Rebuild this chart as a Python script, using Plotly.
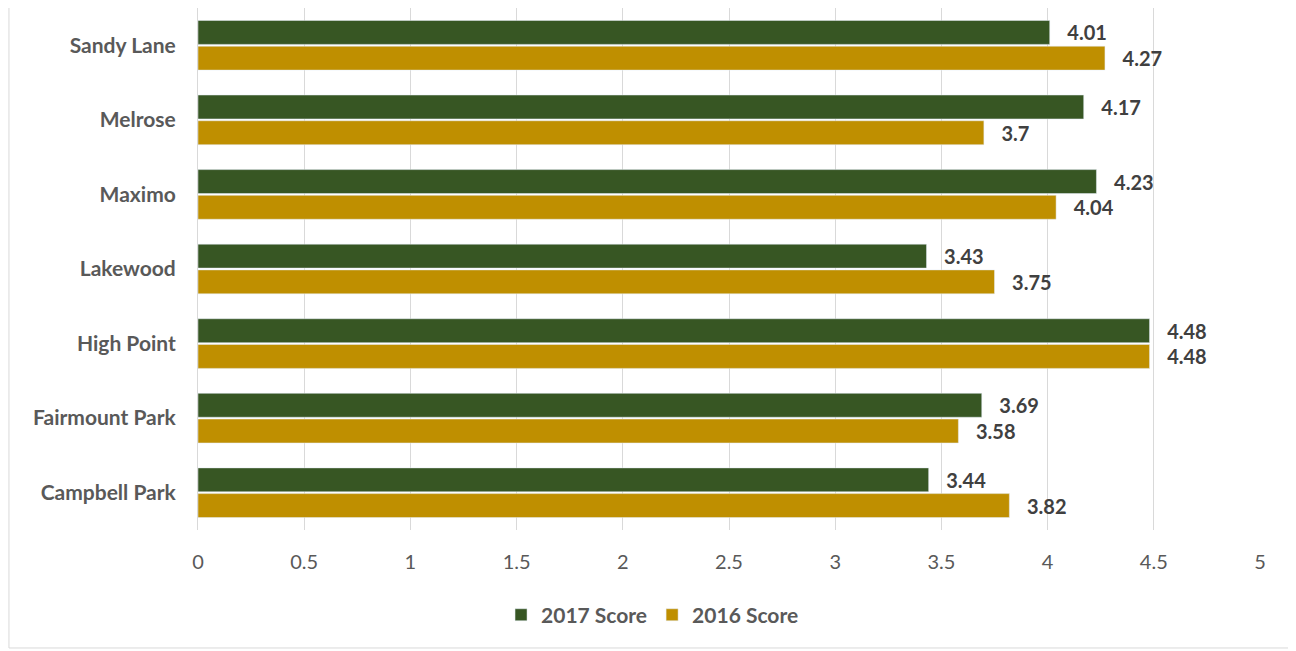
import plotly.graph_objects as go

categories = ["Campbell Park", "Fairmount Park", "High Point", "Lakewood", "Maximo", "Melrose", "Sandy Lane"]
score_2017 = [3.44, 3.69, 4.48, 3.43, 4.23, 4.17, 4.01]
score_2016 = [3.82, 3.58, 4.48, 3.75, 4.04, 3.70, 4.27]
x_ticks = [0, 0.5, 1, 1.5, 2, 2.5, 3, 3.5, 4, 4.5, 5]

FONT = "Lato, 'Open Sans', sans-serif"
label_font = dict(family=FONT, size=20, color="#404040", weight="bold")

fig = go.Figure()
fig.add_trace(go.Bar(
    y=categories, x=score_2016, orientation="h", name="2016 Score",
    marker=dict(color="#BF8F00"),
    text=[f"   {v:g}" for v in score_2016], textposition="outside",
    textfont=label_font, cliponaxis=False, legendrank=2,
))
fig.add_trace(go.Bar(
    y=categories, x=score_2017, orientation="h", name="2017 Score",
    marker=dict(color="#375623"),
    text=[f"   {v:g}" for v in score_2017], textposition="outside",
    textfont=label_font, cliponaxis=False, legendrank=1,
))

fig.update_layout(
    width=1288, height=643,
    paper_bgcolor="white", plot_bgcolor="white",
    margin=dict(l=190, r=36, t=0, b=121),
    barmode="group", bargap=0.31, bargroupgap=0.07,
    font=dict(family=FONT, color="#595959"),
    uniformtext=dict(minsize=20, mode="show"),
    legend=dict(orientation="h", x=0.428, xanchor="center", y=-0.163, yanchor="middle",
                font=dict(family=FONT, size=21, color="#595959", weight="bold"),
                traceorder="normal", entrywidth=0),
    xaxis=dict(range=[0, 5], tickvals=x_ticks, ticktext=[f"{t:g}" for t in x_ticks],
               showgrid=True, gridcolor="#D9D9D9", gridwidth=1, zeroline=False,
               tickfont=dict(family=FONT, size=20, color="#595959"), ticks="outside", ticklen=14,
               tickcolor="rgba(0,0,0,0)", showline=False, fixedrange=True),
    yaxis=dict(showgrid=False, zeroline=False, showline=True, linecolor="#D9D9D9", linewidth=1,
               tickfont=dict(family=FONT, size=21, color="#595959", weight="bold"),
               ticks="outside", ticklen=17, tickcolor="rgba(0,0,0,0)"),
)
# outer chart border
bx0, bx1, by0, by1 = -0.178, 1.0311, -0.226, 1.05
fig.add_shape(type="line", xref="paper", yref="paper", x0=bx0, x1=bx0, y0=by0, y1=by1,
              line=dict(color="#D9D9D9", width=1))
fig.add_shape(type="line", xref="paper", yref="paper", x0=bx0, x1=bx1, y0=by0, y1=by0,
              line=dict(color="#D9D9D9", width=1))
fig.add_shape(type="line", xref="paper", yref="paper", x0=bx1, x1=bx1, y0=by0, y1=by1,
              line=dict(color="#D9D9D9", width=1))

fig.write_html("out.html")
